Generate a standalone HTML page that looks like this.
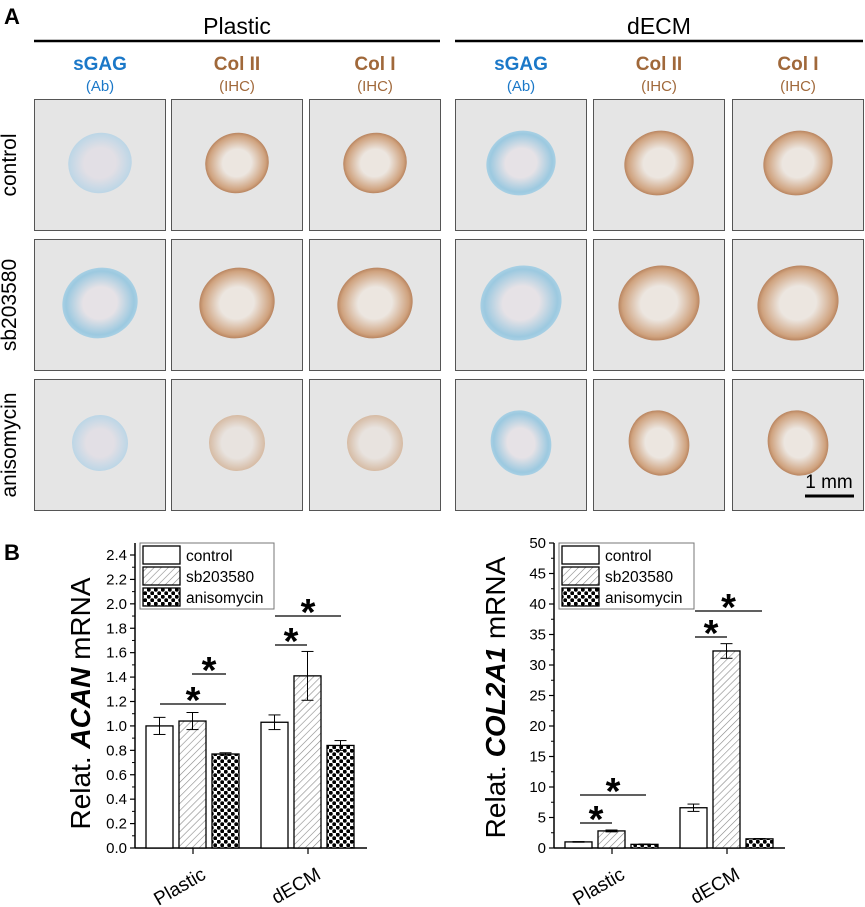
<!DOCTYPE html>
<html><head><meta charset="utf-8"><style>
body{margin:0;background:#fff;width:865px;height:907px;overflow:hidden;font-family:"Liberation Sans",Arial,sans-serif}
svg{position:absolute;left:0;top:0}
</style></head><body>
<svg width="865" height="907" viewBox="0 0 865 907">
<defs>
<pattern id="hatch" width="5" height="5" patternUnits="userSpaceOnUse" patternTransform="rotate(45)"><rect width="5" height="5" fill="#fff"/><line x1="0" y1="0" x2="0" y2="5" stroke="#888" stroke-width="1.2"/></pattern>
<pattern id="check" width="7" height="7" patternUnits="userSpaceOnUse"><rect width="7" height="7" fill="#fff"/><circle cx="1.75" cy="1.75" r="2" fill="#000"/><circle cx="5.25" cy="5.25" r="2" fill="#000"/></pattern>
<radialGradient id="gBlue"><stop offset="0.45" stop-color="#e6e2e6"/><stop offset="0.9" stop-color="#9cc9e0"/><stop offset="1" stop-color="#a8d0e4"/></radialGradient>
<radialGradient id="gBlueL"><stop offset="0.5" stop-color="#e2dfe5"/><stop offset="1" stop-color="#bcd6e6"/></radialGradient>
<radialGradient id="gBrown"><stop offset="0.45" stop-color="#ece6e0"/><stop offset="0.9" stop-color="#cfa27e"/><stop offset="1" stop-color="#b98560"/></radialGradient>
<radialGradient id="gBrownL"><stop offset="0.55" stop-color="#e8e3df"/><stop offset="1" stop-color="#d6bba4"/></radialGradient>
</defs>
<g id="panelA">
<text x="4" y="24" font-size="22" font-weight="bold">A</text>
<text x="237" y="34" font-size="23" text-anchor="middle">Plastic</text>
<line x1="34" y1="41" x2="440" y2="41" stroke="#000" stroke-width="2.5"/>
<text x="659" y="34" font-size="23" text-anchor="middle">dECM</text>
<line x1="455" y1="41" x2="863" y2="41" stroke="#000" stroke-width="2.5"/>
<g id="imgs"></g>
<text x="16" y="165" font-size="21" text-anchor="middle" transform="rotate(-90 16 165)">control</text>
<text x="16" y="305" font-size="21" text-anchor="middle" transform="rotate(-90 16 305)">sb203580</text>
<text x="16" y="445" font-size="21" text-anchor="middle" transform="rotate(-90 16 445)">anisomycin</text>
<text x="829" y="488" font-size="19" text-anchor="middle">1 mm</text>
<line x1="805" y1="496" x2="854" y2="496" stroke="#000" stroke-width="3"/>
</g>
<text x="4" y="560" font-size="22" font-weight="bold">B</text>
<g id="chart1"></g>
<g id="chart2"></g>
</svg>
<script>
const NS="http://www.w3.org/2000/svg";
function mk(p,t,a,txt){const e=document.createElementNS(NS,t);for(const k in a)e.setAttribute(k,a[k]);if(txt!=null)e.textContent=txt;p.appendChild(e);return e;}
const colX=[34,171,309,455,593,732], rowY=[99,239,379];
const heads=[["sGAG","(Ab)","#1b78c8"],["Col II","(IHC)","#a0683a"],["Col I","(IHC)","#a0683a"]];
const imgs=document.getElementById('imgs');
colX.forEach((x,ci)=>{
  const h=heads[ci%3];
  const t1=mk(imgs,'text',{x:x+66,y:70,'font-size':19,'font-weight':'bold',fill:h[2],'text-anchor':'middle'},h[0]);
  
  
  const t2=mk(imgs,'text',{x:x+66,y:91,'font-size':15,fill:h[2],'text-anchor':'middle'},h[1]);
  
  
  rowY.forEach((y,ri)=>{
    const g=mk(imgs,'g',{});
    
    
    mk(g,'rect',{x:x+0.5,y:y+0.5,width:131,height:131,fill:'#e5e5e5',stroke:'#555','stroke-width':1});
    const blue=ci%3==0, dec=ci>=3;
    let rx=ri==1?38:(ri==2?(dec?30:28):32), ry=ri==1?35:(ri==2?(dec?33:28):30);
    if(dec&&ri<2){rx+=3;ry+=2;}
    const light=(!dec&&(ri==2||ri==0&&blue));
    const fill=blue?(light?'url(#gBlueL)':'url(#gBlue)'):(light?'url(#gBrownL)':'url(#gBrown)');
    mk(g,'ellipse',{cx:x+66,cy:y+64,rx:rx,ry:ry,fill:fill,transform:`rotate(-20 ${x+66} ${y+64})`});
  });
});
const groups=["Plastic","dECM"];
const series=["control","sb203580","anisomycin"];
const acanVals=[[1.00,1.03],[1.04,1.41],[0.77,0.84]];
const acanErr=[[0.07,0.06],[0.07,0.20],[0.01,0.04]];
const acanTicks=["0.0","0.2","0.4","0.6","0.8","1.0","1.2","1.4","1.6","1.8","2.0","2.2","2.4"];
const col2Vals=[[1.0,6.6],[2.8,32.3],[0.6,1.5]];
const col2Err=[[0.05,0.6],[0.15,1.2],[0.05,0.05]];
const col2Ticks=["0","5","10","15","20","25","30","35","40","45","50"];
const fills=["#fff","url(#hatch)","url(#check)"];
function chart(id,cfg){
  const g=document.getElementById(id);
  const y=v=>cfg.y0-(v-0)/cfg.max*(cfg.y0-cfg.yTop);
  mk(g,'line',{x1:cfg.ax,y1:cfg.axTop,x2:cfg.ax,y2:cfg.y0,stroke:'#000','stroke-width':1.5});
  mk(g,'line',{x1:cfg.ax,y1:cfg.y0,x2:cfg.axR,y2:cfg.y0,stroke:'#000','stroke-width':1.5});
  cfg.ticks.forEach((t,i)=>{
    const v=parseFloat(t), yy=y(v);
    mk(g,'line',{x1:cfg.ax-5,y1:yy,x2:cfg.ax,y2:yy,stroke:'#000','stroke-width':1.2});
    if(i<cfg.ticks.length-1){const ym=y(v+cfg.step/2);mk(g,'line',{x1:cfg.ax-3,y1:ym,x2:cfg.ax,y2:ym,stroke:'#000','stroke-width':1});}
    const tl=mk(g,'text',{x:cfg.ax-8,y:yy+5,'font-size':15,'text-anchor':'end'},t);
    
    
  });
  const yt=mk(g,'text',{x:0,y:0,'font-size':28,'text-anchor':'middle',transform:`translate(${cfg.titleX},${(cfg.y0+cfg.yTop)/2+2}) rotate(-90)`});
  
  
  mk(yt,'tspan',{},'Relat. ');mk(yt,'tspan',{'font-weight':'bold','font-style':'italic'},cfg.gene);mk(yt,'tspan',{},' mRNA');
  groups.forEach((gn,gi)=>{
    const cx=cfg.gc[gi];
    mk(g,'line',{x1:cx,y1:cfg.y0,x2:cx,y2:cfg.y0+6,stroke:'#000','stroke-width':1.2});
    const xl=mk(g,'text',{x:0,y:0,'font-size':19,'text-anchor':'end',transform:`translate(${cx+14},${cfg.y0+30}) rotate(-30)`},gn);
    
    
    series.forEach((s,si)=>{
      const bx=cx-47+si*33, v=cfg.vals[si][gi], e=cfg.err[si][gi];
      const b=mk(g,'rect',{x:bx,y:y(v),width:27,height:cfg.y0-y(v),fill:fills[si],stroke:'#000','stroke-width':1.3});
      
      
      const mx=bx+13.5;
      mk(g,'line',{x1:mx,y1:y(v+e),x2:mx,y2:y(v-e),stroke:'#000','stroke-width':1});
      mk(g,'line',{x1:mx-6,y1:y(v+e),x2:mx+6,y2:y(v+e),stroke:'#000','stroke-width':1});
      mk(g,'line',{x1:mx-6,y1:y(v-e),x2:mx+6,y2:y(v-e),stroke:'#000','stroke-width':1});
    });
  });
  cfg.sig.forEach(s=>{
    mk(g,'line',{x1:s[0],y1:s[2],x2:s[1],y2:s[2],stroke:'#000','stroke-width':1.3});
    const st=mk(g,'text',{x:(s[0]+s[1])/2,y:s[2]+9,'font-size':38,'font-weight':'bold','text-anchor':'middle'},'*');
    
    
  });
  const lg=mk(g,'g',{});
  
  
  mk(lg,'rect',{x:cfg.lx,y:543,width:cfg.lw,height:66,fill:'#fff',stroke:'#777','stroke-width':1});
  series.forEach((s,si)=>{
    mk(lg,'rect',{x:cfg.lx+3,y:546+si*21,width:37,height:18,fill:fills[si],stroke:'#000','stroke-width':1.3});
    const lt=mk(lg,'text',{x:cfg.lx+46,y:561+si*21,'font-size':15.5},s);
    
    
  });
}
chart('chart1',{ax:135,axR:367,axTop:543,y0:848,yTop:555,max:2.4,step:0.2,ticks:acanTicks,vals:acanVals,err:acanErr,gc:[193,308],gene:'ACAN',titleX:90,lx:140,lw:134,
  sig:[[160,226,704],[192,226,674],[275,341,616],[275,307,645]]});
chart('chart2',{ax:554,axR:785,axTop:543,y0:848,yTop:543,max:50,step:5,ticks:col2Ticks,vals:col2Vals,err:col2Err,gc:[612,727],gene:'COL2A1',titleX:505,lx:559,lw:135,
  sig:[[580,646,795],[580,612,823],[695,762,611],[695,727,637]]});
</script>
</body></html>
